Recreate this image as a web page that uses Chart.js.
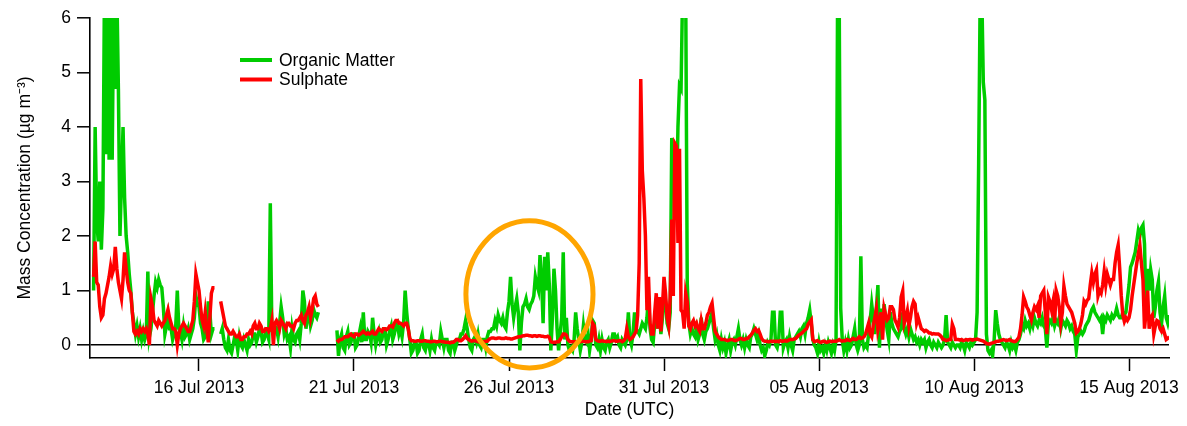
<!DOCTYPE html>
<html>
<head>
<meta charset="utf-8">
<script src="https://cdn.jsdelivr.net/npm/chart.js@4.4.0/dist/chart.umd.min.js"></script>
<style>
  html, body { margin: 0; padding: 0; background: #fff; }
</style>
</head>
<body>
<canvas id="aerosol" width="1187" height="426"></canvas>
<script>
// time axis: days since 16 Jul 2013 00:00 UTC, one sample every 0.05 day
const firstDay = -3.5;
const dayStep = 0.05;

// mass concentration, ug m-3 (one row = one day of samples, null = no data)
const organicMatter = [
  null, null, 1.0, 4.0, 2.3, 1.9, 3.0, 1.75, 2.5, 6.5, 3.5, 6.5, 3.4, 6.5, 3.4, 6.5, 4.7, 6.5, 4.7, 2.0,
  3.0, 4.0, 2.7, 2.0, 1.7, 1.3, 1.0, 0.6, 0.4, 0.2, 0.35, 0.15, 0.3, 0.1, 0.25, 0.1, 0.2, 1.35, 0.15, 0.3,
  0.6, 0.9, 1.15, 1.05, 1.2, 1.1, 1.05, 0.7, 0.2, 0.35, 0.55, 0.3, 0.3, 0.1, 0.2, 0.35, 1.0, 0.3, 0.25, 0.1,
  0.35, 0.15, 0.2, 0.3, 0.1, 0.2, 0.3, 0.5, 0.9, 0.75, 0.7, 0.4, 0.3, 0.1, 0.15, 0.3, 0.8, 0.6, 0.2, 0.3,
  0.3, null, null, null, 0.2, 0.3, 0.1, -0.05, -0.1, 0.1, -0.1, -0.15, 0.0, 0.15, 0.1, -0.1, 0.15, 0.0, -0.05, 0.1,
  0.0, -0.1, 0.1, 0.0, 0.05, 0.2, 0.2, 0.05, 0.15, 0.3, 0.25, 0.05, 0.1, 0.25, 0.2, 0.1, 2.6, 0.3, 0.2, 0.35,
  0.3, 0.15, 0.4, 0.7, 0.5, 0.2, 0.3, 0.1, 0.15, -0.05, 0.3, 0.1, 0.05, 0.2, 0.25, 0.1, 0.4, 1.0, 0.8, 0.3,
  0.5, 0.6, 0.35, 0.45, 0.65, 0.55, 0.5, 0.6, null, null, null, null, null, null, null, null, null, null, null, 0.27,
  -0.2, 0.1, 0.2, -0.05, -0.1, 0.15, 0.25, 0.0, 0.05, 0.2, 0.2, -0.05, 0.0, 0.15, 0.3, 0.05, 0.6, 0.1, 0.1, 0.25,
  0.2, 0.05, 0.5, 0.2, 0.0, 0.15, 0.25, 0.05, 0.1, 0.3, 0.3, 0.0, 0.1, 0.25, 0.35, 0.1, 0.2, 0.35, 0.4, 0.2,
  0.3, 0.15, 0.4, 1.0, 0.6, 0.3, 0.1, -0.15, -0.1, 0.05, 0.05, -0.15, -0.1, 0.1, 0.2, -0.05, -0.1, 0.05, 0.05, -0.1,
  0.1, -0.05, -0.1, 0.05, 0.05, 0.0, 0.25, 0.1, -0.05, 0.1, 0.1, -0.1, -0.15, 0.05, 0.05, -0.1, 0.0, 0.1, 0.1, 0.2,
  0.2, 0.3, 0.45, 0.3, 0.1, -0.05, -0.1, 0.1, 0.15, 0.05, 0.2, 0.0, -0.05, 0.1, 0.1, -0.05, 0.15, 0.25, 0.25, 0.3,
  0.3, 0.45, 0.35, 0.55, 0.45, 0.4, 0.5, 0.35, 0.3, 0.6, 0.8, 1.25, 0.75, 0.5, 0.7, 0.85, 0.6, -0.1, 0.4, 0.7,
  0.75, 0.85, 0.7, 0.65, 0.75, 0.8, 0.9, 1.25, 1.1, 1.0, 1.65, 1.2, 0.4, 1.62, 1.0, 1.7, 1.1, -0.1, 0.5, 1.4,
  1.0, 0.3, -0.1, 0.2, 0.5, 1.7, 0.1, 0.5, 0.0, -0.1, -0.05, -0.1, 0.1, 0.6, 0.3, 0.1, -0.1, 0.05, 0.35, 0.1,
  0.05, 0.2, -0.1, 0.1, 0.45, 0.4, 0.0, -0.05, 0.1, -0.1, 0.1, -0.05, -0.1, 0.05, 0.1, -0.05, 0.05, 0.2, 0.2, 0.1,
  0.15, 0.0, -0.05, 0.1, 0.05, 0.0, 0.1, 0.6, 0.1, 0.0, 0.2, 0.6, 0.3, 0.25, 0.2, 0.3, 0.4, 0.35, 0.3, 0.5,
  0.9, 0.3, 0.1, 0.05, 0.4, 0.7, 0.3, 0.6, 0.2, 0.5, 1.0, 0.8, 0.4, 0.3, 0.6, 3.8, 3.0, 3.5, 2.5, 4.0,
  4.76, 4.7, 6.5, 6.5, 6.5, 1.13, 0.4, 0.2, 0.3, 0.2, 0.15, 0.3, 0.1, 0.2, 0.5, 0.2, 0.1, 0.25, 0.3, 0.4,
  0.5, 0.6, 0.3, 0.1, 0.2, 0.0, -0.1, 0.1, -0.05, 0.05, -0.15, 0.0, 0.1, -0.1, 0.05, 0.1, 0.0, 0.15, 0.3, 0.1,
  0.0, 0.1, -0.05, 0.1, 0.0, -0.05, 0.15, 0.2, 0.3, 0.2, 0.1, 0.2, 0.0, -0.1, -0.05, -0.2, -0.1, 0.05, 0.0, 0.1,
  0.6, 0.6, 0.0, -0.05, 0.1, 0.6, 0.6, -0.05, 0.05, 0.1, -0.05, 0.15, 0.0, -0.1, 0.1, 0.15, 0.2, 0.25, 0.15, 0.3,
  0.35, 0.2, 0.4, 0.5, 0.64, 0.4, 0.1, 0.0, -0.05, -0.15, 0.05, -0.1, -0.05, -0.15, 0.0, -0.1, 0.05, -0.05, -0.15, 0.0,
  -0.1, 0.1, 6.5, 6.5, 0.67, 0.1, -0.1, 0.05, -0.1, 0.1, -0.05, 0.0, 0.15, 0.3, 0.0, -0.1, 0.0, 1.63, 0.1, -0.05,
  0.0, -0.05, 0.2, 0.45, 0.75, 0.5, 0.2, 0.67, 1.1, -0.05, 0.67, 0.27, 0.75, 0.5, 0.27, 0.1, 0.6, 0.4, 0.3, 0.25,
  0.2, 0.15, 0.25, 0.3, 0.6, 0.3, 0.2, 0.3, 0.15, 0.3, 0.2, 0.1, 0.15, 0.05, 0.1, 0.0, 0.1, 0.05, 0.1, -0.05,
  0.05, 0.1, 0.0, -0.05, 0.05, 0.0, -0.05, 0.05, 0.0, -0.05, 0.0, 0.1, 0.55, 0.05, 0.0, -0.05, 0.05, 0.0, -0.05, 0.0,
  0.0, -0.05, 0.05, 0.0, -0.1, 0.05, 0.0, -0.05, 0.05, 0.0, 0.05, 0.1, 0.6, 3.33, 6.5, 6.5, 4.82, 4.5, 0.2, -0.1,
  -0.15, -0.1, -0.2, 0.1, 0.64, 0.4, 0.2, 0.1, 0.05, 0.0, -0.05, 0.05, 0.0, -0.1, 0.05, -0.05, 0.0, -0.1, 0.05, 0.1,
  0.2, 0.35, 0.3, 0.45, 0.35, 0.4, 0.3, 0.45, 0.35, 0.5, 0.4, 0.35, 0.45, 0.4, 0.5, 0.35, 0.3, -0.05, 0.4, 0.45,
  0.4, 0.5, 0.35, 0.45, 0.4, 0.5, 0.3, 0.45, 0.4, 0.35, 0.45, 0.4, 0.3, 0.35, 0.25, 0.2, -0.1, 0.15, 0.2, 0.25,
  0.2, 0.25, 0.35, 0.4, 0.45, 0.55, 0.65, 0.7, 0.6, 0.55, 0.5, 0.45, 0.5, 0.2, 0.5, 0.45, 0.55, 0.5, 0.45, 0.55,
  0.5, 0.55, 0.67, 0.55, 0.5, 0.5, 0.6, 0.55, 0.6, 0.85, 1.1, 1.43, 1.5, 1.6, 1.7, 1.9, 2.1, 2.0, 2.15, 2.2,
  1.85, 0.6, 1.4, 1.0, 1.38, 1.2, 0.5, 0.7, 1.0, 1.16, 0.6, 0.4, 0.7, 0.9, 0.5, 0.4, 0.55
];

const sulphate = [
  null, null, 1.25, 1.9, 1.15, 1.1, 0.7, 0.5, 0.55, 0.85, 0.95, 1.1, 1.25, 1.45, 1.3, 1.4, 1.8, 1.4, 1.15, 1.0,
  0.85, 1.2, 1.7, 1.4, 1.15, 1.0, 0.95, 0.6, 0.25, 0.2, 0.25, 0.2, 0.3, 0.25, 0.3, 0.25, 0.3, 0.2, 0.0, 0.85,
  0.7, 0.45, 0.4, 0.35, 0.45, 0.4, 0.35, 0.4, 0.45, 0.55, 0.65, 0.5, 0.4, 0.3, 0.3, 0.25, 0.0, 0.2, 0.3, 0.35,
  0.4, 0.35, 0.3, 0.25, 0.25, 0.35, 0.45, 0.8, 1.3, 1.15, 1.0, 0.7, 0.45, 0.35, 0.6, 0.3, 0.05, 0.5, 0.95, 1.05,
  1.05, null, null, null, 0.8, 0.65, 0.5, 0.35, 0.3, 0.25, 0.2, 0.2, 0.25, 0.2, 0.15, 0.15, 0.2, 0.1, 0.1, 0.15,
  0.15, 0.2, 0.2, 0.25, 0.2, 0.35, 0.4, 0.3, 0.3, 0.4, 0.35, 0.25, 0.25, 0.3, 0.3, 0.25, 0.3, 0.45, 0.0, 0.4,
  0.45, 0.4, 0.3, 0.45, 0.4, 0.35, 0.3, 0.4, 0.4, 0.35, 0.35, 0.3, 0.4, 0.45, 0.45, 0.5, 0.55, 0.45, 0.4, 0.55,
  0.6, 0.7, 0.5, 0.65, 0.85, 0.9, 0.75, 0.7, null, null, null, null, null, null, null, null, null, null, null, 0.1,
  0.07, 0.1, 0.1, 0.12, 0.15, 0.15, 0.15, 0.18, 0.2, 0.17, 0.15, 0.2, 0.2, 0.18, 0.2, 0.22, 0.25, 0.22, 0.2, 0.22,
  0.2, 0.22, 0.25, 0.2, 0.2, 0.25, 0.3, 0.27, 0.25, 0.3, 0.3, 0.28, 0.3, 0.35, 0.35, 0.33, 0.4, 0.45, 0.45, 0.4,
  0.4, 0.38, 0.35, 0.4, 0.4, 0.3, 0.12, 0.08, 0.08, 0.07, 0.07, 0.08, 0.08, 0.07, 0.07, 0.08, 0.08, 0.07, 0.07, 0.06,
  0.06, 0.07, 0.07, 0.06, 0.06, 0.07, 0.07, 0.06, 0.06, 0.05, 0.05, 0.05, 0.04, 0.05, 0.05, 0.07, 0.1, 0.1, 0.08, 0.08,
  0.1, 0.13, 0.17, 0.12, 0.1, 0.08, 0.07, 0.08, 0.08, 0.07, 0.06, 0.06, 0.05, 0.06, 0.06, 0.07, 0.07, 0.1, 0.12, 0.13,
  0.13, 0.12, 0.12, 0.13, 0.13, 0.12, 0.12, 0.12, 0.13, 0.12, 0.12, 0.11, 0.11, 0.12, 0.13, 0.14, 0.15, 0.15, 0.16, 0.17,
  0.17, 0.18, 0.18, 0.17, 0.17, 0.16, 0.17, 0.17, 0.16, 0.17, 0.17, 0.16, 0.16, 0.15, 0.15, 0.16, 0.14, 0.06, 0.05, 0.05,
  0.05, 0.06, 0.06, 0.1, 0.15, 0.2, 0.2, 0.18, 0.1, 0.07, 0.06, 0.06, 0.06, 0.06, 0.05, 0.05, 0.06, 0.07, 0.07, 0.06,
  0.06, 0.06, 0.07, 0.08, 0.4, 0.35, 0.1, 0.08, 0.07, 0.07, 0.08, 0.07, 0.07, 0.06, 0.07, 0.06, 0.07, 0.08, 0.08, 0.07,
  0.07, 0.08, 0.08, 0.06, 0.08, 0.12, 0.3, 0.15, 0.1, 0.12, 0.15, 0.2, 0.25, 0.55, 1.5, 4.88, 3.2, 2.7, 2.0, 0.64,
  1.25, 0.4, 0.2, 0.2, 0.6, 0.95, 0.3, 0.88, 0.25, 0.7, 1.25, 0.95, 0.5, 0.35, 0.88, 2.3, 0.9, 3.7, 3.65, 1.87,
  3.6, 0.64, 0.6, 0.3, 0.95, 0.8, 0.35, 0.3, 0.4, 0.45, 0.35, 0.4, 0.3, 0.25, 0.45, 0.3, 0.3, 0.4, 0.55, 0.6,
  0.7, 0.77, 0.5, 0.25, 0.2, 0.15, 0.12, 0.1, 0.1, 0.1, 0.09, 0.08, 0.09, 0.1, 0.1, 0.09, 0.08, 0.09, 0.1, 0.12,
  0.12, 0.1, 0.1, 0.12, 0.12, 0.15, 0.18, 0.22, 0.27, 0.3, 0.25, 0.27, 0.2, 0.12, 0.08, 0.07, 0.07, 0.06, 0.06, 0.07,
  0.06, 0.07, 0.06, 0.07, 0.06, 0.08, 0.07, 0.07, 0.08, 0.07, 0.08, 0.1, 0.1, 0.1, 0.11, 0.12, 0.15, 0.18, 0.2, 0.22,
  0.25, 0.28, 0.3, 0.38, 0.42, 0.46, 0.1, 0.06, 0.07, 0.08, 0.06, 0.05, 0.06, 0.07, 0.06, 0.05, 0.06, 0.07, 0.06, 0.07,
  0.07, 0.07, 0.08, 0.1, 0.08, 0.07, 0.08, 0.08, 0.1, 0.09, 0.08, 0.1, 0.12, 0.1, 0.1, 0.12, 0.15, 0.12, 0.13, 0.15,
  0.2, 0.3, 0.4, 0.2, 0.15, 0.35, 0.5, 0.67, 0.27, 0.4, 0.6, 0.1, 0.67, 0.55, 0.46, 0.5, 0.7, 0.7, 0.65, 0.46,
  0.4, 0.33, 0.5, 0.88, 0.99, 0.4, 0.5, 0.63, 0.35, 0.5, 0.7, 0.8, 0.75, 0.4, 0.5, 0.4, 0.3, 0.28, 0.25, 0.27,
  0.25, 0.22, 0.22, 0.2, 0.21, 0.2, 0.2, 0.2, 0.18, 0.15, 0.1, 0.1, 0.08, 0.09, 0.1, 0.1, 0.38, 0.3, 0.1, 0.1,
  0.1, 0.09, 0.1, 0.08, 0.09, 0.1, 0.09, 0.1, 0.1, 0.09, 0.1, 0.1, 0.11, 0.1, 0.09, 0.08, 0.07, 0.05, 0.03, 0.02,
  0.02, 0.03, 0.04, 0.05, 0.06, 0.07, 0.07, 0.08, 0.09, 0.1, 0.09, 0.08, 0.09, 0.1, 0.08, 0.07, 0.06, 0.07, 0.1, 0.15,
  0.3, 0.55, 0.88, 0.8, 0.7, 0.65, 0.55, 0.46, 0.6, 0.7, 0.65, 0.72, 0.5, 0.9, 0.95, 1.0, 0.6, 0.2, 0.88, 0.8,
  0.65, 0.8, 0.4, 1.0, 0.9, 0.7, 0.4, 0.6, 1.08, 0.9, 0.75, 0.7, 0.65, 0.6, 0.5, 0.4, 0.22, 0.25, 0.3, 0.4,
  0.55, 0.8, 0.75, 0.82, 0.85, 1.1, 1.32, 1.15, 1.3, 1.38, 0.9, 1.0, 0.95, 1.1, 1.35, 1.1, 1.3, 1.2, 1.1, 1.2,
  1.2, 1.5, 1.7, 1.83, 1.4, 0.9, 0.55, 0.43, 0.5, 0.45, 0.5, 0.65, 0.9, 1.1, 1.3, 1.5, 1.68, 1.83, 1.5, 1.2,
  0.3, 0.6, 1.0, 0.3, 0.5, 0.55, 0.2, 0.35, 0.45, 0.43, 0.3, 0.25, 0.3, 0.2, 0.1, 0.12, 0.15
];

const xTickDays = [0, 5, 10, 15, 20, 25, 30];
const xTickLabels = ["16 Jul 2013", "21 Jul 2013", "26 Jul 2013", "31 Jul 2013",
                     "05 Aug 2013", "10 Aug 2013", "15 Aug 2013"];
const yTickValues = [0, 1, 2, 3, 4, 5, 6];

// orange ring around the 26-27 Jul organic episode (days, ug m-3)
const ringCentre = [10.66, 0.93];
const ringRadius = [2.05, 1.35];

const days = organicMatter.map((v, i) => +(firstDay + i * dayStep).toFixed(3));

const txtFont = { family: "'Liberation Sans', Arial, sans-serif", size: 17.5 };
const green = '#00cc00';
const red = '#ff0000';

const overlay = {
  id: 'overlay',
  afterDatasetsDraw(chart) {
    const { ctx, scales: { x, y } } = chart;
    const cx = x.getPixelForValue(ringCentre[0]);
    const cy = y.getPixelForValue(ringCentre[1]);
    const rx = x.getPixelForValue(ringCentre[0] + ringRadius[0]) - cx;
    const ry = cy - y.getPixelForValue(ringCentre[1] + ringRadius[1]);
    ctx.save();
    ctx.strokeStyle = '#ffa500';
    ctx.lineWidth = 5;
    ctx.beginPath();
    ctx.ellipse(cx, cy, rx, ry, 0, 0, Math.PI * 2);
    ctx.stroke();

    // legend, top left of the plot
    ctx.font = txtFont.size + 'px ' + txtFont.family;
    ctx.textBaseline = 'middle';
    ctx.fillStyle = '#000';
    const items = [chart.data.datasets[1], chart.data.datasets[0]];
    items.forEach((ds, i) => {
      const ly = 60 + i * 19.5;
      ctx.strokeStyle = ds.borderColor;
      ctx.lineWidth = 4;
      ctx.beginPath();
      ctx.moveTo(240, ly);
      ctx.lineTo(272, ly);
      ctx.stroke();
      ctx.fillText(ds.label, 279, ly + 1);
    });
    ctx.restore();
  }
};

new Chart(document.getElementById('aerosol'), {
  type: 'line',
  data: {
    datasets: [
      {
        label: 'Sulphate',
        data: days.map((d, i) => ({ x: d, y: sulphate[i] })),
        borderColor: red,
        borderWidth: 3.5,
        pointRadius: 0,
        spanGaps: false,
        order: 0
      },
      {
        label: 'Organic Matter',
        data: days.map((d, i) => ({ x: d, y: organicMatter[i] })),
        borderColor: green,
        borderWidth: 3.5,
        pointRadius: 0,
        spanGaps: false,
        order: 1
      }
    ]
  },
  options: {
    responsive: false,
    animation: false,
    layout: { padding: { top: 18, right: 18, left: 0, bottom: 0 } },
    plugins: { legend: { display: false }, tooltip: { enabled: false } },
    scales: {
      x: {
        type: 'linear',
        min: -3.516,
        max: 31.29,
        afterBuildTicks: s => { s.ticks = xTickDays.map(v => ({ value: v })); },
        afterFit: s => { s.height = 68; },
        grid: { drawOnChartArea: false, tickLength: 13, tickWidth: 1.5, tickColor: '#000' },
        border: { display: true, color: '#000', width: 1.6 },
        ticks: {
          padding: 6.5, maxRotation: 0, autoSkip: false, color: '#000', font: txtFont,
          callback: (v, i) => xTickLabels[i]
        },
        title: { display: true, text: 'Date (UTC)', color: '#000', font: txtFont, padding: { top: 0, bottom: 5.5 } }
      },
      y: {
        min: -0.2385,
        max: 6,
        afterBuildTicks: s => { s.ticks = yTickValues.map(v => ({ value: v })); },
        afterFit: s => { s.width = 90; },
        grid: {
          color: c => (c.tick && c.tick.value === 0 ? '#000' : 'rgba(0,0,0,0)'),
          lineWidth: 1.6, tickLength: 13, tickWidth: 1.5, tickColor: '#000'
        },
        border: { display: true, color: '#000', width: 1.6 },
        ticks: { padding: 6, color: '#000', font: txtFont, callback: v => v },
        title: {
          display: true, text: 'Mass Concentration (\u00b5g m\u207b\u00b3)', color: '#000', font: txtFont,
          padding: { top: 14.5, bottom: 0 }
        }
      }
    }
  },
  plugins: [overlay]
});
</script>
</body>
</html>
